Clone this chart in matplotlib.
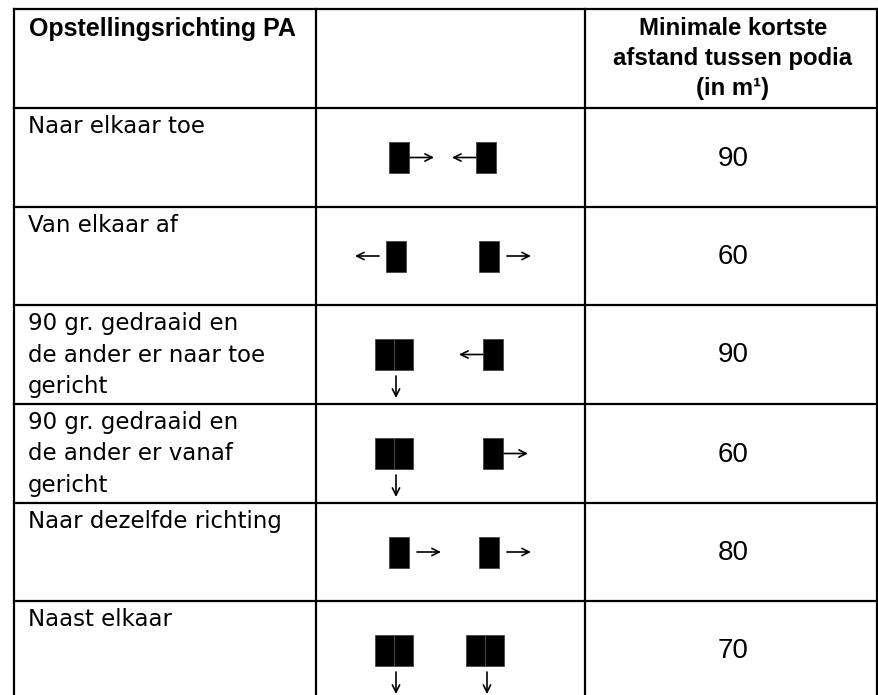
import matplotlib
matplotlib.use("Agg")
import matplotlib.pyplot as plt
from matplotlib.patches import Rectangle

# ---- table content ----
header_left = "Opstellingsrichting PA"
header_right = ["Minimale kortste", "afstand tussen podia", "(in m\u00b9)"]
row_labels = [
    ["Naar elkaar toe"],
    ["Van elkaar af"],
    ["90 gr. gedraaid en", "de ander er naar toe", "gericht"],
    ["90 gr. gedraaid en", "de ander er vanaf", "gericht"],
    ["Naar dezelfde richting"],
    ["Naast elkaar"],
]
values = [90, 60, 90, 60, 80, 70]

# stage icons per row: (kind, left x of block, arrow direction)
# kind "S" = single stage block, "D" = double (rotated) block
# arrow: "E" right, "W" left, "S" down
icons = [
    [("S", 389, "E"), ("S", 476, "W")],
    [("S", 386, "W"), ("S", 479, "E")],
    [("D", 375, "S"), ("S", 483, "W")],
    [("D", 375, "S"), ("S", 483, "E")],
    [("S", 389, "E"), ("S", 479, "E")],
    [("D", 375, "S"), ("D", 466, "S")],
]
arrow_gap = [
    [1, 0],
    [7, 8],
    [0, 0],
    [0, 1],
    [8, 8],
    [0, 0],
]

# ---- layout (pixels) ----
W, H = 879, 695
col_x = [14, 316, 585, 877]
row_y = [9, 108, 207, 305, 404, 503, 601, 697]

fig = plt.figure(figsize=(W / 100, H / 100), dpi=100)
ax = fig.add_axes([0, 0, 1, 1])
ax.set_xlim(0, W)
ax.set_ylim(H, 0)
ax.axis("off")

lw = 1.6
# grid
for y in row_y[:-1]:
    ax.plot([col_x[0], col_x[-1]], [y, y], color="black", lw=lw, solid_capstyle="projecting")
for x in col_x:
    ax.plot([x, x], [row_y[0], H + 2], color="black", lw=lw, solid_capstyle="projecting")

body_font = "DejaVu Sans"
head_font = "Liberation Sans"

# header
ax.text(29, 36, header_left, fontfamily=head_font, fontweight="bold",
        fontsize=18, ha="left", va="baseline")
cx3 = (col_x[2] + col_x[3]) / 2 + 2
for i, line in enumerate(header_right):
    ax.text(cx3, 35 + 30 * i, line, fontfamily=head_font, fontweight="bold",
            fontsize=17.2, ha="center", va="baseline")

# body
SW, SH = 20, 31      # single block size
DW = 38              # double block width
ALEN = 24            # arrow length
for r, (lines, val) in enumerate(zip(row_labels, values)):
    top, bot = row_y[r + 1], row_y[r + 2]
    for i, line in enumerate(lines):
        ax.text(28, top + 25 + 31.5 * i, line, fontfamily=body_font,
                fontsize=16.5, ha="left", va="baseline")
    cy = (top + min(bot, 699)) / 2 if r < len(values) - 1 else top + 49.5
    ax.text(cx3, cy + 1, str(val), fontfamily=head_font, fontsize=20,
            ha="center", va="center")
    for k, (kind, x0, d) in enumerate(icons[r]):
        w = SW if kind == "S" else DW
        y0 = cy - SH / 2
        ax.add_patch(Rectangle((x0, y0), w, SH, facecolor="black",
                               edgecolor="#444444", lw=0.6))
        if kind == "D":
            ax.plot([x0 + w / 2, x0 + w / 2], [y0, y0 + SH], color="#555555", lw=0.6)
        g = arrow_gap[r][k]
        ap = dict(arrowstyle="->", lw=1.2, color="black", shrinkA=0, shrinkB=0,
                  mutation_scale=13)
        if d == "E":
            s = x0 + w + g
            ax.annotate("", xy=(s + ALEN, cy), xytext=(s, cy), arrowprops=ap)
        elif d == "W":
            s = x0 - g
            ax.annotate("", xy=(s - ALEN, cy), xytext=(s, cy), arrowprops=ap)
        else:
            xm = x0 + w / 2 + 2
            s = y0 + SH + 6
            ax.annotate("", xy=(xm, s + 22), xytext=(xm, s), arrowprops=ap)

fig.savefig("out.png", dpi=100, facecolor="white")
